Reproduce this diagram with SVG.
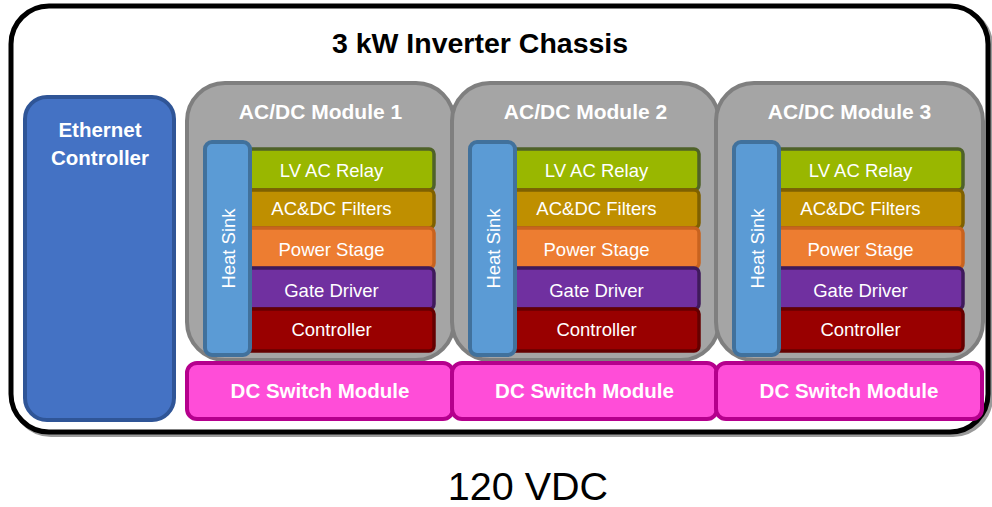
<svg xmlns="http://www.w3.org/2000/svg" width="992" height="507" viewBox="0 0 992 507">
<style>
.t{font-family:"Liberation Sans",Arial,sans-serif;fill:#fff;text-anchor:middle}
.b{font-weight:bold}
.mod{fill:#A5A5A5;stroke:#7F7F7F;stroke-width:4}
.hs{fill:#5B9BD5;stroke:#41719C;stroke-width:4}
.lv{fill:#99B700;stroke:#4F6228;stroke-width:3.5}
.fl{fill:#BF8F00;stroke:#7F6000;stroke-width:3.5}
.ps{fill:#ED7D31;stroke:#C8631F;stroke-width:3.5}
.gd{fill:#7030A0;stroke:#3F1A5B;stroke-width:3.5}
.ct{fill:#990000;stroke:#650000;stroke-width:3.5}
.dc{fill:#FF4DD8;stroke:#B5008D;stroke-width:4}
.lay{font-size:18.5px}
.ttl{font-size:21px}
</style>
<g id="chassis">
<rect x="13" y="8" width="978" height="427" rx="38" fill="none" stroke="#9a9a9a" stroke-width="4"/>
<rect x="11" y="6" width="977" height="426" rx="38" fill="#fff" stroke="#000" stroke-width="5"/>
<text x="480" y="53" font-family="Liberation Sans,Arial,sans-serif" font-weight="bold" font-size="28.5" fill="#000" text-anchor="middle">3 kW Inverter Chassis</text>
</g>
<g id="ethernet">
<rect x="25" y="97" width="149" height="323" rx="22" fill="#4472C4" stroke="#2F5597" stroke-width="4"/>
<text class="t b" x="100" y="137" font-size="20.5">Ethernet</text>
<text class="t b" x="100" y="165" font-size="20.5">Controller</text>
</g>
<g id="module1">
<rect class="mod" x="187" y="83" width="267" height="277" rx="38"/>
<text class="t b ttl" x="320.5" y="119">AC/DC Module 1</text>
<rect class="lv" x="238" y="149" width="196" height="41" rx="5"/>
<rect class="fl" x="238" y="190" width="196" height="38" rx="5"/>
<rect class="ps" x="238" y="228" width="196" height="40" rx="5"/>
<rect class="gd" x="238" y="268" width="196" height="41" rx="5"/>
<rect class="ct" x="238" y="309" width="196" height="42" rx="5"/>
<text class="t lay" x="331.5" y="177">LV AC Relay</text>
<text class="t lay" x="331.5" y="215">AC&amp;DC Filters</text>
<text class="t lay" x="331.5" y="256">Power Stage</text>
<text class="t lay" x="331.5" y="297">Gate Driver</text>
<text class="t lay" x="331.5" y="336">Controller</text>
<rect class="hs" x="205" y="142" width="45" height="213" rx="7"/>
<text class="t lay" x="235" y="248.5" transform="rotate(-90 235 248.5)">Heat Sink</text>
</g>
<g id="module2" transform="translate(265 0)">
<rect class="mod" x="187" y="83" width="267" height="277" rx="38"/>
<text class="t b ttl" x="320.5" y="119">AC/DC Module 2</text>
<rect class="lv" x="238" y="149" width="196" height="41" rx="5"/>
<rect class="fl" x="238" y="190" width="196" height="38" rx="5"/>
<rect class="ps" x="238" y="228" width="196" height="40" rx="5"/>
<rect class="gd" x="238" y="268" width="196" height="41" rx="5"/>
<rect class="ct" x="238" y="309" width="196" height="42" rx="5"/>
<text class="t lay" x="331.5" y="177">LV AC Relay</text>
<text class="t lay" x="331.5" y="215">AC&amp;DC Filters</text>
<text class="t lay" x="331.5" y="256">Power Stage</text>
<text class="t lay" x="331.5" y="297">Gate Driver</text>
<text class="t lay" x="331.5" y="336">Controller</text>
<rect class="hs" x="205" y="142" width="45" height="213" rx="7"/>
<text class="t lay" x="235" y="248.5" transform="rotate(-90 235 248.5)">Heat Sink</text>
</g>
<g id="module3" transform="translate(529 0)">
<rect class="mod" x="187" y="83" width="267" height="277" rx="38"/>
<text class="t b ttl" x="320.5" y="119">AC/DC Module 3</text>
<rect class="lv" x="238" y="149" width="196" height="41" rx="5"/>
<rect class="fl" x="238" y="190" width="196" height="38" rx="5"/>
<rect class="ps" x="238" y="228" width="196" height="40" rx="5"/>
<rect class="gd" x="238" y="268" width="196" height="41" rx="5"/>
<rect class="ct" x="238" y="309" width="196" height="42" rx="5"/>
<text class="t lay" x="331.5" y="177">LV AC Relay</text>
<text class="t lay" x="331.5" y="215">AC&amp;DC Filters</text>
<text class="t lay" x="331.5" y="256">Power Stage</text>
<text class="t lay" x="331.5" y="297">Gate Driver</text>
<text class="t lay" x="331.5" y="336">Controller</text>
<rect class="hs" x="205" y="142" width="45" height="213" rx="7"/>
<text class="t lay" x="235" y="248.5" transform="rotate(-90 235 248.5)">Heat Sink</text>
</g>
<g id="dcswitch1">
<rect class="dc" x="187" y="363" width="266" height="56" rx="10"/>
<text class="t b" x="320" y="398" font-size="20.5">DC Switch Module</text>
</g>
<g id="dcswitch2">
<rect class="dc" x="452" y="363" width="265" height="56" rx="10"/>
<text class="t b" x="584.5" y="398" font-size="20.5">DC Switch Module</text>
</g>
<g id="dcswitch3">
<rect class="dc" x="716" y="363" width="266" height="56" rx="10"/>
<text class="t b" x="849" y="398" font-size="20.5">DC Switch Module</text>
</g>
<g id="connectors"></g>
<text x="528" y="500" font-family="Liberation Sans,Arial,sans-serif" font-size="39.5" fill="#000" text-anchor="middle">120 VDC</text>
</svg>
